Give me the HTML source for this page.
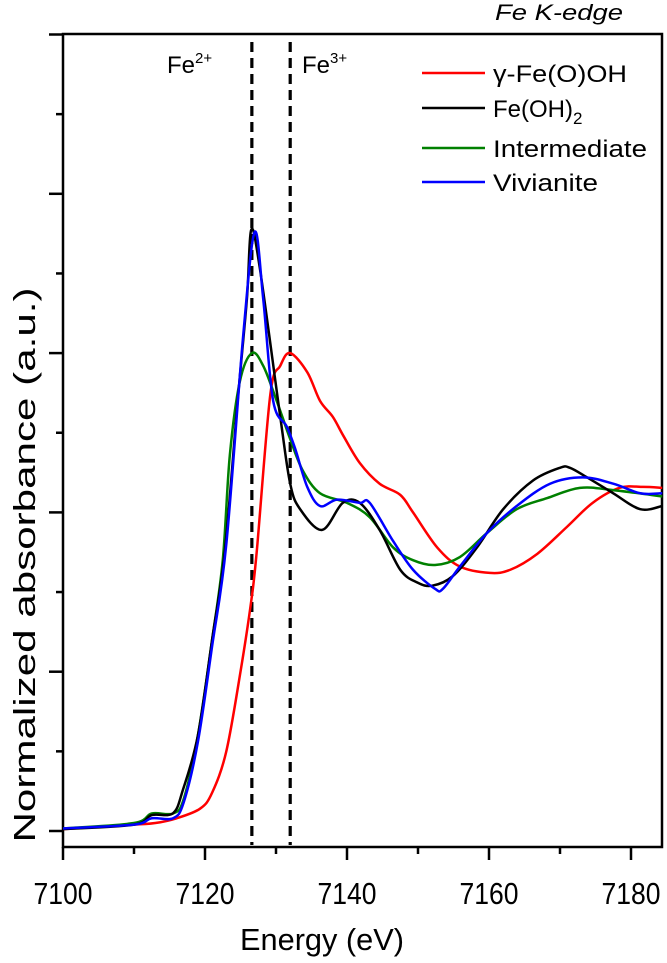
<!DOCTYPE html>
<html><head><meta charset="utf-8"><style>
html,body{margin:0;padding:0;background:#fff;}
svg text{font-family:"Liberation Sans",sans-serif;fill:#000;}
</style></head><body>
<svg width="667" height="958" viewBox="0 0 667 958" xmlns="http://www.w3.org/2000/svg">
<g id="axes"></g>
<g id="series"></g>
<text x="495" y="20" font-size="22" font-style="italic" textLength="128" lengthAdjust="spacingAndGlyphs">Fe K-edge</text>
<text x="167" y="73" font-size="24">Fe<tspan dy="-10" font-size="15">2+</tspan></text>
<text x="302" y="73" font-size="24">Fe<tspan dy="-10" font-size="15">3+</tspan></text>
<text x="322" y="950" font-size="31" text-anchor="middle" textLength="164" lengthAdjust="spacingAndGlyphs">Energy (eV)</text>
<text transform="translate(35,565) rotate(-90)" font-size="31" text-anchor="middle" textLength="555" lengthAdjust="spacingAndGlyphs">Normalized absorbance (a.u.)</text>
<g id="legend"></g>
</svg>
<script>
const xTicks = [7100, 7120, 7140, 7160, 7180];
const xMinorTicks = [7110, 7130, 7150, 7170];
const yMajorTicks = [0, 0.5, 1, 1.5, 2, 2.5];
const yMinorTicks = [0.25, 0.75, 1.25, 1.75, 2.25];
const refLines = [7126.6, 7132];
const seriesNames = ["γ-Fe(O)OH", "Fe(OH)2", "Intermediate", "Vivianite"];
const redE = [7100,7110,7113,7116,7119.3,7121,7123,7125,7126.5,7127.3,7129.2,7130.6,7132,7134.4,7136.2,7138,7139.5,7141.8,7144.6,7147.5,7149.3,7152.7,7155.9,7160.1,7163,7166.8,7171,7174.6,7178.4,7181.7,7184.4];
const redV = [0.006,0.02,0.025,0.04,0.07,0.12,0.25,0.5,0.72,0.88,1.37,1.46,1.5,1.44,1.35,1.3,1.24,1.155,1.09,1.055,1.0,0.89,0.83,0.81,0.82,0.87,0.955,1.03,1.077,1.08,1.077];
const blackE = [7100,7110,7112.5,7115.5,7116.9,7119,7121,7122.8,7124.6,7125.9,7126.5,7127.7,7130.6,7132,7133.4,7136.5,7139.4,7141.8,7144.6,7147.5,7149.9,7152,7154.9,7158.3,7162,7166.2,7170,7171.4,7173.8,7177.5,7181.3,7184.4];
const blackV = [0.006,0.02,0.05,0.056,0.13,0.3,0.6,0.88,1.35,1.67,1.886,1.77,1.3,1.09,1.01,0.945,1.03,1.03,0.945,0.82,0.78,0.77,0.8,0.89,1.01,1.1,1.14,1.14,1.11,1.06,1.01,1.02];
const greenE = [7100,7110,7112.5,7115.5,7117,7119,7121,7122.5,7123.5,7124.9,7126.6,7128.2,7130.1,7132,7133.8,7136.2,7140,7143.2,7146.5,7149.3,7152.4,7155.9,7159.7,7163.9,7168.2,7172.8,7177.5,7184.4];
const greenV = [0.008,0.025,0.055,0.055,0.1,0.3,0.6,0.85,1.18,1.41,1.5,1.46,1.35,1.23,1.13,1.06,1.03,0.985,0.89,0.85,0.835,0.86,0.935,1.01,1.045,1.077,1.07,1.05];
const blueE = [7100,7110,7112.5,7115.5,7117,7119,7121,7123,7125.4,7127,7128.2,7129.6,7131.5,7132.7,7134.4,7136.2,7138.6,7141.8,7143.2,7146.5,7149.3,7152.4,7153.5,7155.9,7159.7,7163.9,7168.6,7173.2,7177.5,7181.3,7184.4];
const blueV = [0.008,0.02,0.04,0.04,0.09,0.28,0.58,0.9,1.56,1.88,1.67,1.35,1.27,1.2,1.08,1.02,1.04,1.03,1.03,0.91,0.82,0.76,0.76,0.83,0.935,1.02,1.09,1.11,1.09,1.06,1.06];

const X0=63, PXE=7.1, Y0=831, PYV=318.6, TOP=34, BOT=847, RIGHT=662;
const xs = e => X0 + (e-7100)*PXE;
const ys = v => Y0 - v*PYV;
const NS="http://www.w3.org/2000/svg";
function mk(tag, attrs, parent){const el=document.createElementNS(NS,tag);for(const k in attrs)el.setAttribute(k,attrs[k]);parent.appendChild(el);return el;}
const axes=document.getElementById('axes');
let f=mk('rect',{x:X0,y:TOP,width:RIGHT-X0,height:BOT-TOP,fill:'none',stroke:'#000','stroke-width':2.5},axes);


xTicks.forEach(t=>{
  let l=mk('line',{x1:xs(t),x2:xs(t),y1:BOT,y2:BOT+13,stroke:'#000','stroke-width':2.5},axes);
  
  
  let tx=mk('text',{x:xs(t),y:904,'font-size':31,'text-anchor':'middle',textLength:59,lengthAdjust:'spacingAndGlyphs'},axes);
  tx.textContent=t;
  
  
});
xMinorTicks.forEach(t=>{
  let l=mk('line',{x1:xs(t),x2:xs(t),y1:BOT,y2:BOT+7,stroke:'#000','stroke-width':2.5},axes);
  
  
});
yMajorTicks.forEach(t=>{
  let l=mk('line',{x1:X0-14,x2:X0,y1:ys(t),y2:ys(t),stroke:'#000','stroke-width':2.5},axes);
  
  
});
yMinorTicks.forEach(t=>{
  let l=mk('line',{x1:X0-7,x2:X0,y1:ys(t),y2:ys(t),stroke:'#000','stroke-width':2.5},axes);
  
  
});
refLines.forEach(e=>{
  let l=mk('line',{x1:xs(e),x2:xs(e),y1:TOP+8,y2:BOT-2,stroke:'#000','stroke-width':3.2,'stroke-dasharray':'10,6'},axes);
  
  
});
function pathFrom(E,V){
  const p=E.map((e,i)=>[xs(e),ys(V[i])]);
  let d=`M${p[0][0]},${p[0][1]}`;
  for(let i=0;i<p.length-1;i++){
    const p0=p[Math.max(0,i-1)],p1=p[i],p2=p[i+1],p3=p[Math.min(p.length-1,i+2)];
    const c1=[p1[0]+(p2[0]-p0[0])/6,p1[1]+(p2[1]-p0[1])/6];
    const c2=[p2[0]-(p3[0]-p1[0])/6,p2[1]-(p3[1]-p1[1])/6];
    d+=` C${c1[0]},${c1[1]} ${c2[0]},${c2[1]} ${p2[0]},${p2[1]}`;
  }
  return d;
}
const ser=document.getElementById('series');
const colors=['#ff0000','#000000','#008000','#0000ff'];
const data=[[redE,redV],[blackE,blackV],[greenE,greenV],[blueE,blueV]];
const order=[0,2,1,3];
order.forEach(i=>{
  let p=mk('path',{d:pathFrom(data[i][0],data[i][1]),fill:'none',stroke:colors[i],'stroke-width':2.5,'stroke-linejoin':'round'},ser);
  
  
});
const leg=document.getElementById('legend');
const legY=[73,108,148,182];
const legW=[134,90,154,105];
seriesNames.forEach((n,i)=>{
  let l=mk('line',{x1:422,x2:485,y1:legY[i],y2:legY[i],stroke:colors[i],'stroke-width':2.5},leg);
  
  
  let t=mk('text',{x:493,y:legY[i]+9,'font-size':24},leg);
  if(n==="Fe(OH)2"){t.textContent="Fe(OH)";let s=mk('tspan',{dy:7,'font-size':17},t);s.textContent="2";}
  else {t.textContent=n;t.setAttribute('textLength',legW[i]);t.setAttribute('lengthAdjust','spacingAndGlyphs');}
  
  
});
</script>
</body></html>
